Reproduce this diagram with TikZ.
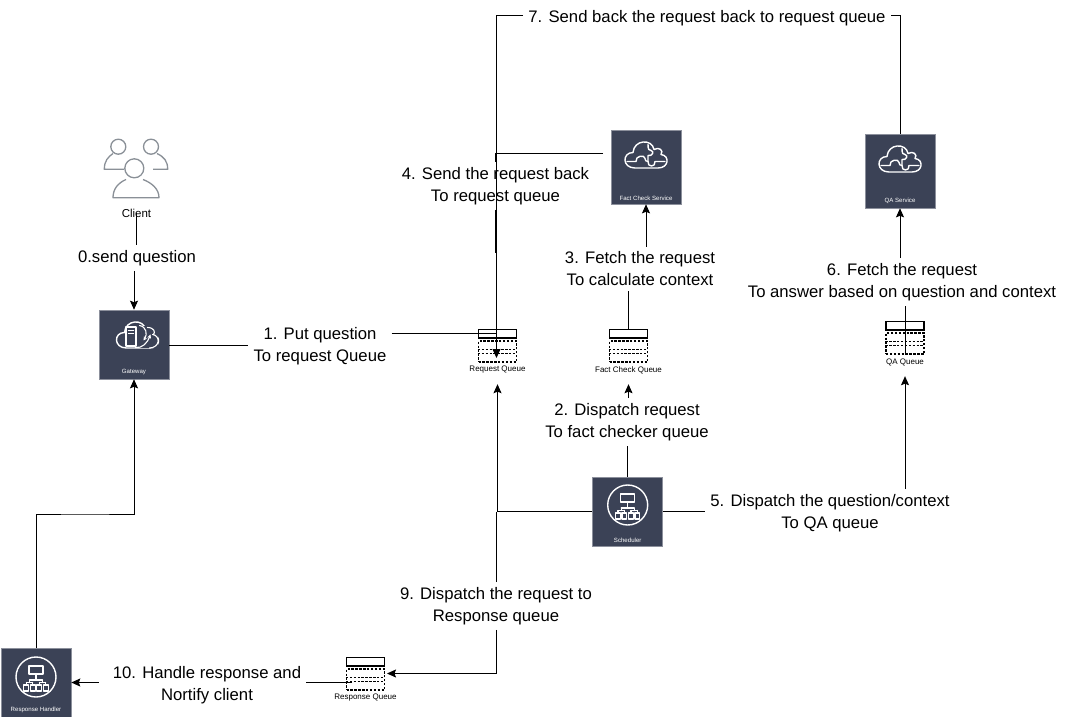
\documentclass[tikz,border=0pt]{standalone}
\usepackage{fontspec}
\setmainfont{Liberation Sans}
\usetikzlibrary{arrows.meta}
\definecolor{svcfill}{HTML}{3B4256}
\definecolor{svcedge}{HTML}{8C909C}
\definecolor{usergray}{HTML}{8A9097}
\newcommand\cloudline{(-11,12.5) .. controls (-24,12.5) and (-24,-3) .. (-13,-3) .. controls (-12,-16) and (6,-17) .. (8,-6) .. controls (13,-9) and (18,-5) .. (15,-1) .. controls (24,0) and (23,12.5) .. (12,12.5) -- cycle}
\newcommand\queuebox[4]{
		\node[qtop](#1)at(#2,#3+4.7){};
		\node[qbody](#1b)at(#2,#3+22.6){};
		\draw[qdash](#1b.west)++(0,-2)--++(38,0);
		\draw[qdash](#1b.west)++(0,2)--++(38,0);
		\node[qtext](#1t)at(#2,#3+41){#4};
}
\tikzset{
	x=1pt,y=-1pt,
	link/.style={line width=.9pt},
	tip/.style={link,-{Stealth[length=9pt,width=8pt,inset=1.5pt]}},
	svcbox/.style={fill=svcfill,draw=svcedge,line width=.6pt,minimum width=70pt,minimum height=69pt,inner sep=0pt},
	svctext/.style={text=white,font=\fontsize{6.1}{7}\selectfont,anchor=south,yshift=4pt,inner sep=0pt},
	steplabel/.style={align=center,inner sep=5pt,font=\fontsize{16.7}{22}\selectfont},
	qtop/.style={draw,line width=1.3pt,minimum width=38pt,minimum height=8.6pt,inner sep=0pt},
	qbody/.style={draw,dash pattern=on 2.4pt off 1.5pt,line width=1.3pt,minimum width=38pt,minimum height=21pt,inner sep=0pt},
	qdash/.style={dash pattern=on 2.4pt off 1.5pt,line width=1.2pt},
	qtext/.style={font=\fontsize{8}{9}\selectfont,minimum height=28pt,inner sep=0pt},
	icon/.style={draw=white,line width=1.4pt,line join=round,line cap=round},
	user/.style={draw=usergray,line width=1.3pt,line join=round},
	pics/puzzlecloud/.style={code={
		\draw[icon]\cloudline;
		\draw[icon](-19,6)--(-10,6)..controls(-11,0)and(-1,-1)..(-1,3)..controls(-1,5)and(0,6)..(2,6)
			..controls(1,12)and(10,12)..(9,6)--(19,6);
		\draw[icon](2,6)--(2,0)..controls(6,1)and(9,-4)..(5,-5)..controls(3,-5)and(2,-6)..(2,-11);
	}},
	pics/orgchart/.style={code={
		\draw[icon](0,0)circle(20);
		\draw[icon,line width=1.1pt](-7,-11)rectangle(7,-3) (0,-3)--(0,3) (-6.5,3)--(6.5,3) (-6.5,3)--(-6.5,5.5) (6.5,3)--(6.5,5.5)
			(-9.7,5.5)--(-3.3,5.5) (3.3,5.5)--(9.7,5.5);
		\foreach \cx in {-9.7,-3.3,3.3,9.7}
			\draw[icon,line width=1.1pt](\cx-2.4,8)rectangle(\cx+2.4,14) (\cx,5.5)--(\cx,8);
	}},
	pics/gatecloud/.style={code={
		\draw[icon]\cloudline;
		\draw[fill=svcfill,draw=svcfill](3,-9)rectangle(20,12);
		\draw[icon,line width=1.1pt](-11.5,-8.5)rectangle(-1.5,10.5) (-9,-5)--(-4,-5) (-9,-2)--(-4,-2);
		\draw[icon,line width=1.1pt,-{Stealth[length=4pt,width=4pt]}](2,-10)..controls(9,-9)and(10,-1)..(6,5);
		\draw[icon,line width=1.1pt,-{Stealth[length=4pt,width=4pt]}](-2,12)..controls(5,13)and(10,7)..(13,-1);
		\draw[icon,line width=1.1pt](10,-8)..controls(17,-8)and(18,-3)..(16,-1) (15,-1)..controls(23,0)and(23,12)..(12,12.5);
	}},
}
\begin{document}
\begin{tikzpicture}
	\useasboundingbox(0,0)rectangle(1065,717);
	\draw[user](118.3,146.7)circle(7.5) (151,146.7)circle(7.5) (134.3,168.3)circle(9.5);
	\draw[user](124,169.3)--(104.3,169.3)..controls(104.3,161)and(108,157)..(113,153.5);
	\draw[user](153,169.3)--(167.7,169.3)..controls(167.7,161)and(164,157)..(157,153.5);
	\draw[user](126,179.5)..controls(118,183)and(113,189)..(113,197.7)--(159,197.7)..controls(159,189)and(152,183)..(143,179.5);
	\node[inner sep=0pt,font=\fontsize{11.5}{12}\selectfont](client)at(136.5,213){Client};
	\node[svcbox](gateway)at(134,344.5){};
	\node[svctext]at(gateway.south){Gateway};
	\pic at([xshift=3.5pt,yshift=9pt]gateway){gatecloud};
	\node[svcbox,minimum height=74pt](fact)at(646,167){};
	\node[svctext]at(fact.south){Fact Check Service};
	\pic at([yshift=11.5pt]fact){puzzlecloud};
	\node[svcbox,minimum height=74pt](qa)at(900,171){};
	\node[svctext]at(qa.south){QA Service};
	\pic at([yshift=11.5pt]qa){puzzlecloud};
	\node[svcbox](sched)at(627.7,511.5){};
	\node[svctext]at(sched.south){Scheduler};
	\pic at([yshift=6.5pt]sched){orgchart};
	\node[svcbox](handler)at(36,682.5){};
	\node[svctext]at(handler.south){Response Handler};
	\pic at([yshift=5.5pt]handler){orgchart};
	\queuebox{reqq}{497.5}{329}{Request Queue}
	\queuebox{fcq}{628.5}{329}{Fact Check Queue}
	\queuebox{qaq}{905}{321}{QA Queue}
	\queuebox{resq}{365.5}{657}{Response Queue}
	\node[steplabel](lbl0)at(137,258){0.send question};
	\node[steplabel](lbl1)at(320,346){1. Put question\\To request Queue};
	\node[steplabel](lbl2)at(627,422){2. Dispatch request\\To fact checker queue};
	\node[steplabel](lbl3)at(640,269){3. Fetch the request\\To calculate context};
	\node[steplabel](lbl4)at(495.5,186){4. Send the request back\\To request queue};
	\node[steplabel](lbl5)at(830,513){5. Dispatch the question/context\\To QA queue};
	\node[steplabel](lbl6)at(902,282){6. Fetch the request\\To answer based on question and context};
	\node[steplabel](lbl7)at(707,18){7. Send back the request back to request queue};
	\node[steplabel](lbl9)at(496,606){9. Dispatch the request to\\Response queue};
	\node[steplabel](lbl10)at(207,685){10. Handle response and\\Nortify client};
	\coordinate(reqin)at(496.5,333);
	\coordinate(reqtip)at(496.5,358);
	\coordinate(factout)at(603,153);
	\coordinate(merge)at(495.5,253);
	\coordinate(gateout)at(169,345);
	\coordinate(topline)at(900,15);
	\coordinate(resqin)at(387,673.5);
	\coordinate(resqout)at(352,682);
	\coordinate(bend)at(85,514);
	\draw[link](client.center)--(lbl0.north-|client.center);
	\draw[tip](lbl0.south-|gateway.north)--(gateway.north);
	\draw[link](gateout)--(lbl1.west|-gateout);
	\draw[link](lbl1.east|-reqin)--(reqin);
	\draw[tip](lbl2.north-|fcqt.south)--(fcqt.south);
	\draw[link](sched.north)--(lbl2.south-|sched.north);
	\draw[link](fcq.north)--(lbl3.south-|fcq.north);
	\draw[tip](lbl3.north-|fact.south)--(fact.south);
	\draw[link](factout)-|(lbl4.north);
	\draw[link](lbl4.south)--(merge);
	\draw[link](sched.east)--(lbl5.west|-sched.east);
	\draw[tip](lbl5.north-|qaqt.south)--(qaqt.south);
	\draw[link](qaqb.south)--(lbl6.south-|qaqb.south);
	\draw[tip](lbl6.north-|qa.south)--(qa.south);
	\draw[link](qa.north)--(topline)--(lbl7.east|-topline);
	\draw[tip](lbl7.west|-topline)-|(reqtip);
	\draw[tip](sched.west)-|(reqqt.south);
	\draw[link](lbl9.north)--(lbl9.north|-sched.west);
	\draw[tip](lbl9.south)|-(resqin);
	\draw[link](resqout)--(lbl10.east|-resqout);
	\draw[tip]([xshift=-9pt]lbl10.west|-handler.east)--(handler.east);
	\draw[tip](handler.north)|-(bend)-|(gateway.south);
\end{tikzpicture}
\end{document}
